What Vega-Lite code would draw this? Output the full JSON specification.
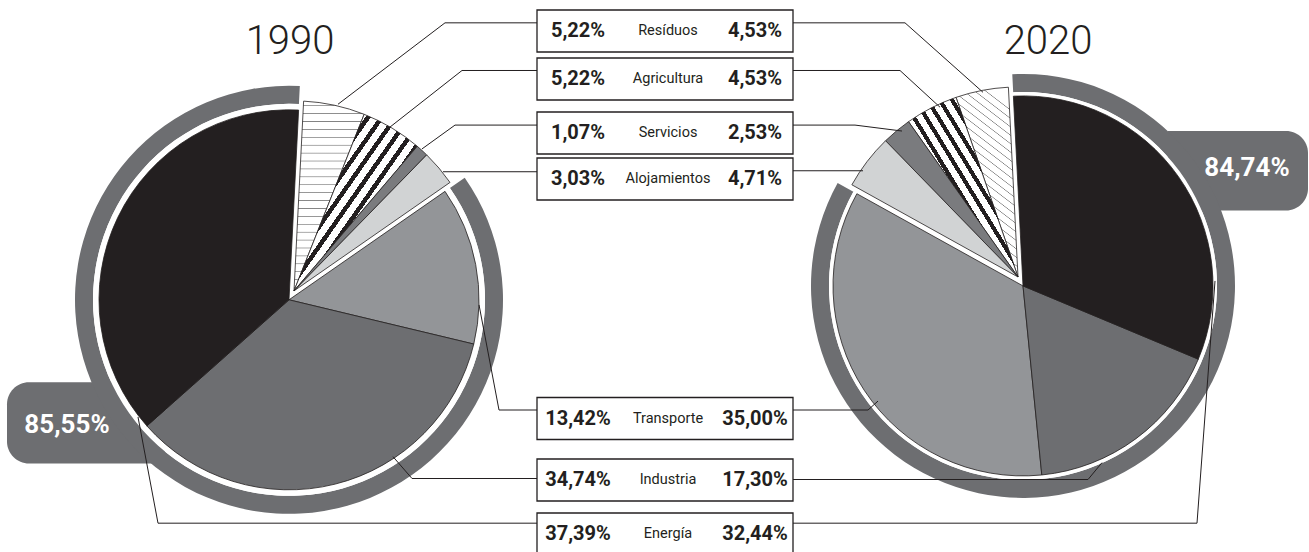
{
"$schema": "https://vega.github.io/schema/vega-lite/v6.json",
"width": 1309, "height": 552,
"autosize": {"type": "fit", "contains": "padding"},
"padding": 0,
"background": "white",
"config": {"view": {"stroke": null}},
"resolve": {"scale": {"y": "independent", "theta": "independent"}},
"datasets": {
"slices": [
{"year":"1990","cat":"Resíduos","rank":1,"value":5.22,"group":"small"},
{"year":"1990","cat":"Agricultura","rank":2,"value":5.22,"group":"small"},
{"year":"1990","cat":"Servicios","rank":3,"value":1.07,"group":"small"},
{"year":"1990","cat":"Alojamientos","rank":4,"value":3.03,"group":"small"},
{"year":"1990","cat":"Transporte","rank":5,"value":13.42,"group":"main"},
{"year":"1990","cat":"Industria","rank":6,"value":34.74,"group":"main"},
{"year":"1990","cat":"Energía","rank":7,"value":37.39,"group":"main"},
{"year":"2020","cat":"Resíduos","rank":1,"value":4.53,"group":"small"},
{"year":"2020","cat":"Agricultura","rank":2,"value":4.53,"group":"small"},
{"year":"2020","cat":"Servicios","rank":3,"value":2.53,"group":"small"},
{"year":"2020","cat":"Alojamientos","rank":4,"value":4.71,"group":"small"},
{"year":"2020","cat":"Transporte","rank":5,"value":35.00,"group":"main"},
{"year":"2020","cat":"Industria","rank":6,"value":17.30,"group":"main"},
{"year":"2020","cat":"Energía","rank":7,"value":32.44,"group":"main"}
],
"leaders": [
{"id":"L1","o":1,"x":338,"y":105},{"id":"L1","o":2,"x":445,"y":23},{"id":"L1","o":3,"x":537,"y":23},
{"id":"L2","o":1,"x":390,"y":128},{"id":"L2","o":2,"x":462,"y":71},{"id":"L2","o":3,"x":537,"y":71},
{"id":"L3","o":1,"x":422,"y":150},{"id":"L3","o":2,"x":455,"y":126},{"id":"L3","o":3,"x":537,"y":126},
{"id":"L4","o":1,"x":443,"y":173},{"id":"L4","o":2,"x":537,"y":173},
{"id":"L5","o":1,"x":479,"y":307},{"id":"L5","o":2,"x":499,"y":413},{"id":"L5","o":3,"x":537,"y":413},
{"id":"L6","o":1,"x":393,"y":460},{"id":"L6","o":2,"x":412,"y":482},{"id":"L6","o":3,"x":537,"y":482},
{"id":"L7","o":1,"x":138,"y":420},{"id":"L7","o":2,"x":158,"y":527},{"id":"L7","o":3,"x":537,"y":527},
{"id":"R1","o":1,"x":793,"y":23},{"id":"R1","o":2,"x":905,"y":23},{"id":"R1","o":3,"x":983,"y":93},
{"id":"R2","o":1,"x":793,"y":71},{"id":"R2","o":2,"x":900,"y":71},{"id":"R2","o":3,"x":940,"y":108},
{"id":"R3","o":1,"x":793,"y":126},{"id":"R3","o":2,"x":855,"y":126},{"id":"R3","o":3,"x":902,"y":132},
{"id":"R4","o":1,"x":793,"y":172},{"id":"R4","o":2,"x":863,"y":172},
{"id":"R5","o":1,"x":793,"y":413},{"id":"R5","o":2,"x":868,"y":413},{"id":"R5","o":3,"x":878,"y":404},
{"id":"R6","o":1,"x":793,"y":483},{"id":"R6","o":2,"x":1088,"y":483},{"id":"R6","o":3,"x":1102,"y":466},
{"id":"R7","o":1,"x":793,"y":527},{"id":"R7","o":2,"x":1197,"y":527},{"id":"R7","o":3,"x":1215,"y":283}
]
},
"layer": [
{
"data": {"values": [{}]},
"mark": {"type": "rect", "fill": "#6d6e71", "cornerRadiusTopLeft": 22, "cornerRadiusBottomLeft": 22},
"encoding": {
"x": {"datum": 7, "type": "quantitative", "scale": {"domain": [0, 1309], "nice": false, "zero": false}, "axis": null},
"x2": {"datum": 165},
"y": {"datum": 385, "type": "quantitative", "scale": {"domain": [0, 552], "reverse": true, "nice": false, "zero": false}, "axis": null},
"y2": {"datum": 467}
}
},
{
"data": {"values": [{}]},
"mark": {"type": "rect", "fill": "#6d6e71", "cornerRadiusTopRight": 22, "cornerRadiusBottomRight": 22},
"encoding": {
"x": {"datum": 1168, "type": "quantitative", "scale": {"domain": [0, 1309], "nice": false, "zero": false}, "axis": null},
"x2": {"datum": 1308},
"y": {"datum": 132, "type": "quantitative", "scale": {"domain": [0, 552], "reverse": true, "nice": false, "zero": false}, "axis": null},
"y2": {"datum": 212}
}
},
{
"data": {"name": "slices"},
"transform": [
{"filter": "datum.year==='1990'"},
{"stack": "value", "groupby": ["year"], "sort": [{"field": "rank", "order": "ascending"}], "offset": "normalize", "as": ["s0", "s1"]},
{"filter": "datum.group==='main'"},
{"aggregate": [{"op": "min", "field": "s0", "as": "a0"}, {"op": "max", "field": "s1", "as": "a1"}]}
],
"layer": [
{"mark": {"type": "arc", "innerRadius": 196, "outerRadius": 214, "fill": "#6d6e71"}},
{"mark": {"type": "arc", "innerRadius": 188, "outerRadius": 196, "fill": "#ffffff"}}
],
"encoding": {
"x": {"datum": 289, "type": "quantitative", "scale": {"domain": [0, 1309], "nice": false, "zero": false}, "axis": null},
"y": {"datum": 302, "type": "quantitative", "scale": {"domain": [0, 552], "reverse": true, "nice": false, "zero": false}, "axis": null},
"theta": {"field": "a0", "type": "quantitative", "stack": null, "scale": {"domain": [0, 1], "range": [0.0506, 6.3338]}},
"theta2": {"field": "a1"}
}
},
{
"data": {"name": "slices"},
"transform": [
{"filter": "datum.year==='2020'"},
{"stack": "value", "groupby": ["year"], "sort": [{"field": "rank", "order": "descending"}], "offset": "normalize", "as": ["s0", "s1"]},
{"filter": "datum.group==='main'"},
{"aggregate": [{"op": "min", "field": "s0", "as": "a0"}, {"op": "max", "field": "s1", "as": "a1"}]}
],
"layer": [
{"mark": {"type": "arc", "innerRadius": 194, "outerRadius": 212, "fill": "#6d6e71"}},
{"mark": {"type": "arc", "innerRadius": 188, "outerRadius": 194, "fill": "#ffffff"}}
],
"encoding": {
"x": {"datum": 1023, "type": "quantitative", "scale": {"domain": [0, 1309], "nice": false, "zero": false}, "axis": null},
"y": {"datum": 288, "type": "quantitative", "scale": {"domain": [0, 552], "reverse": true, "nice": false, "zero": false}, "axis": null},
"theta": {"field": "a0", "type": "quantitative", "stack": null, "scale": {"domain": [0, 1], "range": [-0.0506, 6.2326]}},
"theta2": {"field": "a1"}
}
},
{
"data": {"name": "slices"},
"transform": [
{"filter": "datum.year==='1990'"},
{"stack": "value", "groupby": ["year"], "sort": [{"field": "rank", "order": "ascending"}], "offset": "normalize", "as": ["s0", "s1"]},
{"filter": "datum.group==='main'"}
],
"mark": {"type": "arc", "outerRadius": 190, "stroke": "#231f20", "strokeWidth": 0.8},
"encoding": {
"x": {"datum": 289, "type": "quantitative", "scale": {"domain": [0, 1309], "nice": false, "zero": false}, "axis": null},
"y": {"datum": 302, "type": "quantitative", "scale": {"domain": [0, 552], "reverse": true, "nice": false, "zero": false}, "axis": null},
"theta": {"field": "s0", "type": "quantitative", "stack": null, "scale": {"domain": [0, 1], "range": [0.0506, 6.3338]}},
"theta2": {"field": "s1"},
"fill": {"field": "cat", "type": "nominal", "legend": null, "scale": {"domain": ["Energía","Industria","Transporte","Alojamientos","Servicios","Agricultura","Resíduos"], "range": ["#231f20","#6d6e71","#939598","#d1d3d4","#7a7b7e","#ffffff","#ffffff"]}}
}
},
{
"data": {"name": "slices"},
"transform": [
{"filter": "datum.year==='2020'"},
{"stack": "value", "groupby": ["year"], "sort": [{"field": "rank", "order": "descending"}], "offset": "normalize", "as": ["s0", "s1"]},
{"filter": "datum.group==='main'"}
],
"mark": {"type": "arc", "outerRadius": 190, "stroke": "#231f20", "strokeWidth": 0.8},
"encoding": {
"x": {"datum": 1023, "type": "quantitative", "scale": {"domain": [0, 1309], "nice": false, "zero": false}, "axis": null},
"y": {"datum": 288, "type": "quantitative", "scale": {"domain": [0, 552], "reverse": true, "nice": false, "zero": false}, "axis": null},
"theta": {"field": "s0", "type": "quantitative", "stack": null, "scale": {"domain": [0, 1], "range": [-0.0506, 6.2326]}},
"theta2": {"field": "s1"},
"fill": {"field": "cat", "type": "nominal", "legend": null}
}
},
{
"data": {"name": "slices"},
"transform": [
{"filter": "datum.year==='1990'"},
{"stack": "value", "groupby": ["year"], "sort": [{"field": "rank", "order": "ascending"}], "offset": "normalize", "as": ["s0", "s1"]},
{"filter": "datum.group==='small'"}
],
"mark": {"type": "arc", "outerRadius": 190, "stroke": "#231f20", "strokeWidth": 0.8},
"encoding": {
"x": {"datum": 294, "type": "quantitative", "scale": {"domain": [0, 1309], "nice": false, "zero": false}, "axis": null},
"y": {"datum": 293, "type": "quantitative", "scale": {"domain": [0, 552], "reverse": true, "nice": false, "zero": false}, "axis": null},
"theta": {"field": "s0", "type": "quantitative", "stack": null, "scale": {"domain": [0, 1], "range": [0.0506, 6.3338]}},
"theta2": {"field": "s1"},
"fill": {
"condition": [
{"test": "datum.cat==='Resíduos'", "value": {"gradient": "linear", "x1": 0, "y1": 0, "x2": 0, "y2": 1, "stops": [
{"offset":0,"color":"#ffffff"},
{"offset":0.02,"color":"#ffffff"},{"offset":0.024,"color":"#808080"},{"offset":0.028,"color":"#ffffff"},
{"offset":0.0617,"color":"#ffffff"},{"offset":0.0657,"color":"#808080"},{"offset":0.0697,"color":"#ffffff"},
{"offset":0.1033,"color":"#ffffff"},{"offset":0.1073,"color":"#808080"},{"offset":0.1113,"color":"#ffffff"},
{"offset":0.145,"color":"#ffffff"},{"offset":0.149,"color":"#808080"},{"offset":0.153,"color":"#ffffff"},
{"offset":0.1867,"color":"#ffffff"},{"offset":0.1907,"color":"#808080"},{"offset":0.1947,"color":"#ffffff"},
{"offset":0.2283,"color":"#ffffff"},{"offset":0.2323,"color":"#808080"},{"offset":0.2363,"color":"#ffffff"},
{"offset":0.27,"color":"#ffffff"},{"offset":0.274,"color":"#808080"},{"offset":0.278,"color":"#ffffff"},
{"offset":0.3117,"color":"#ffffff"},{"offset":0.3157,"color":"#808080"},{"offset":0.3197,"color":"#ffffff"},
{"offset":0.3533,"color":"#ffffff"},{"offset":0.3573,"color":"#808080"},{"offset":0.3613,"color":"#ffffff"},
{"offset":0.395,"color":"#ffffff"},{"offset":0.399,"color":"#808080"},{"offset":0.403,"color":"#ffffff"},
{"offset":0.4367,"color":"#ffffff"},{"offset":0.4407,"color":"#808080"},{"offset":0.4447,"color":"#ffffff"},
{"offset":0.4783,"color":"#ffffff"},{"offset":0.4823,"color":"#808080"},{"offset":0.4863,"color":"#ffffff"},
{"offset":0.52,"color":"#ffffff"},{"offset":0.524,"color":"#808080"},{"offset":0.528,"color":"#ffffff"},
{"offset":0.5617,"color":"#ffffff"},{"offset":0.5657,"color":"#808080"},{"offset":0.5697,"color":"#ffffff"},
{"offset":0.6033,"color":"#ffffff"},{"offset":0.6073,"color":"#808080"},{"offset":0.6113,"color":"#ffffff"},
{"offset":0.645,"color":"#ffffff"},{"offset":0.649,"color":"#808080"},{"offset":0.653,"color":"#ffffff"},
{"offset":0.6867,"color":"#ffffff"},{"offset":0.6907,"color":"#808080"},{"offset":0.6947,"color":"#ffffff"},
{"offset":0.7283,"color":"#ffffff"},{"offset":0.7323,"color":"#808080"},{"offset":0.7363,"color":"#ffffff"},
{"offset":0.77,"color":"#ffffff"},{"offset":0.774,"color":"#808080"},{"offset":0.778,"color":"#ffffff"},
{"offset":0.8117,"color":"#ffffff"},{"offset":0.8157,"color":"#808080"},{"offset":0.8197,"color":"#ffffff"},
{"offset":0.8533,"color":"#ffffff"},{"offset":0.8573,"color":"#808080"},{"offset":0.8613,"color":"#ffffff"},
{"offset":0.895,"color":"#ffffff"},{"offset":0.899,"color":"#808080"},{"offset":0.903,"color":"#ffffff"},
{"offset":0.9367,"color":"#ffffff"},{"offset":0.9407,"color":"#808080"},{"offset":0.9447,"color":"#ffffff"},
{"offset":0.9783,"color":"#ffffff"},{"offset":0.9823,"color":"#808080"},{"offset":0.9863,"color":"#ffffff"},
{"offset":1,"color":"#ffffff"}]}},
{"test": "datum.cat==='Agricultura'", "value": {"gradient": "linear", "x1": 0, "y1": 0, "x2": 1, "y2": 1, "stops": [
{"offset":0,"color":"#ffffff"},
{"offset":0.02,"color":"#ffffff"},{"offset":0.02,"color":"#231f20"},{"offset":0.042,"color":"#231f20"},{"offset":0.042,"color":"#ffffff"},
{"offset":0.0756,"color":"#ffffff"},{"offset":0.0756,"color":"#231f20"},{"offset":0.0976,"color":"#231f20"},{"offset":0.0976,"color":"#ffffff"},
{"offset":0.1311,"color":"#ffffff"},{"offset":0.1311,"color":"#231f20"},{"offset":0.1531,"color":"#231f20"},{"offset":0.1531,"color":"#ffffff"},
{"offset":0.1867,"color":"#ffffff"},{"offset":0.1867,"color":"#231f20"},{"offset":0.2087,"color":"#231f20"},{"offset":0.2087,"color":"#ffffff"},
{"offset":0.2422,"color":"#ffffff"},{"offset":0.2422,"color":"#231f20"},{"offset":0.2642,"color":"#231f20"},{"offset":0.2642,"color":"#ffffff"},
{"offset":0.2978,"color":"#ffffff"},{"offset":0.2978,"color":"#231f20"},{"offset":0.3198,"color":"#231f20"},{"offset":0.3198,"color":"#ffffff"},
{"offset":0.3533,"color":"#ffffff"},{"offset":0.3533,"color":"#231f20"},{"offset":0.3753,"color":"#231f20"},{"offset":0.3753,"color":"#ffffff"},
{"offset":0.4089,"color":"#ffffff"},{"offset":0.4089,"color":"#231f20"},{"offset":0.4309,"color":"#231f20"},{"offset":0.4309,"color":"#ffffff"},
{"offset":0.4644,"color":"#ffffff"},{"offset":0.4644,"color":"#231f20"},{"offset":0.4864,"color":"#231f20"},{"offset":0.4864,"color":"#ffffff"},
{"offset":0.52,"color":"#ffffff"},{"offset":0.52,"color":"#231f20"},{"offset":0.542,"color":"#231f20"},{"offset":0.542,"color":"#ffffff"},
{"offset":0.5756,"color":"#ffffff"},{"offset":0.5756,"color":"#231f20"},{"offset":0.5976,"color":"#231f20"},{"offset":0.5976,"color":"#ffffff"},
{"offset":0.6311,"color":"#ffffff"},{"offset":0.6311,"color":"#231f20"},{"offset":0.6531,"color":"#231f20"},{"offset":0.6531,"color":"#ffffff"},
{"offset":0.6867,"color":"#ffffff"},{"offset":0.6867,"color":"#231f20"},{"offset":0.7087,"color":"#231f20"},{"offset":0.7087,"color":"#ffffff"},
{"offset":0.7422,"color":"#ffffff"},{"offset":0.7422,"color":"#231f20"},{"offset":0.7642,"color":"#231f20"},{"offset":0.7642,"color":"#ffffff"},
{"offset":0.7978,"color":"#ffffff"},{"offset":0.7978,"color":"#231f20"},{"offset":0.8198,"color":"#231f20"},{"offset":0.8198,"color":"#ffffff"},
{"offset":0.8533,"color":"#ffffff"},{"offset":0.8533,"color":"#231f20"},{"offset":0.8753,"color":"#231f20"},{"offset":0.8753,"color":"#ffffff"},
{"offset":0.9089,"color":"#ffffff"},{"offset":0.9089,"color":"#231f20"},{"offset":0.9309,"color":"#231f20"},{"offset":0.9309,"color":"#ffffff"},
{"offset":0.9644,"color":"#ffffff"},{"offset":0.9644,"color":"#231f20"},{"offset":0.9864,"color":"#231f20"},{"offset":0.9864,"color":"#ffffff"},
{"offset":1,"color":"#ffffff"}]}}
],
"field": "cat", "type": "nominal", "legend": null
}
}
},
{
"data": {"name": "slices"},
"transform": [
{"filter": "datum.year==='2020'"},
{"stack": "value", "groupby": ["year"], "sort": [{"field": "rank", "order": "descending"}], "offset": "normalize", "as": ["s0", "s1"]},
{"filter": "datum.group==='small'"}
],
"mark": {"type": "arc", "outerRadius": 190, "stroke": "#231f20", "strokeWidth": 0.8},
"encoding": {
"x": {"datum": 1018, "type": "quantitative", "scale": {"domain": [0, 1309], "nice": false, "zero": false}, "axis": null},
"y": {"datum": 279, "type": "quantitative", "scale": {"domain": [0, 552], "reverse": true, "nice": false, "zero": false}, "axis": null},
"theta": {"field": "s0", "type": "quantitative", "stack": null, "scale": {"domain": [0, 1], "range": [-0.0506, 6.2326]}},
"theta2": {"field": "s1"},
"fill": {
"condition": [
{"test": "datum.cat==='Resíduos'", "value": {"gradient": "linear", "x1": 0.5, "y1": 0, "x2": 0.25, "y2": 1, "stops": [
{"offset":0,"color":"#ffffff"},
{"offset":0.02,"color":"#ffffff"},{"offset":0.024,"color":"#808080"},{"offset":0.028,"color":"#ffffff"},
{"offset":0.0617,"color":"#ffffff"},{"offset":0.0657,"color":"#808080"},{"offset":0.0697,"color":"#ffffff"},
{"offset":0.1033,"color":"#ffffff"},{"offset":0.1073,"color":"#808080"},{"offset":0.1113,"color":"#ffffff"},
{"offset":0.145,"color":"#ffffff"},{"offset":0.149,"color":"#808080"},{"offset":0.153,"color":"#ffffff"},
{"offset":0.1867,"color":"#ffffff"},{"offset":0.1907,"color":"#808080"},{"offset":0.1947,"color":"#ffffff"},
{"offset":0.2283,"color":"#ffffff"},{"offset":0.2323,"color":"#808080"},{"offset":0.2363,"color":"#ffffff"},
{"offset":0.27,"color":"#ffffff"},{"offset":0.274,"color":"#808080"},{"offset":0.278,"color":"#ffffff"},
{"offset":0.3117,"color":"#ffffff"},{"offset":0.3157,"color":"#808080"},{"offset":0.3197,"color":"#ffffff"},
{"offset":0.3533,"color":"#ffffff"},{"offset":0.3573,"color":"#808080"},{"offset":0.3613,"color":"#ffffff"},
{"offset":0.395,"color":"#ffffff"},{"offset":0.399,"color":"#808080"},{"offset":0.403,"color":"#ffffff"},
{"offset":0.4367,"color":"#ffffff"},{"offset":0.4407,"color":"#808080"},{"offset":0.4447,"color":"#ffffff"},
{"offset":0.4783,"color":"#ffffff"},{"offset":0.4823,"color":"#808080"},{"offset":0.4863,"color":"#ffffff"},
{"offset":0.52,"color":"#ffffff"},{"offset":0.524,"color":"#808080"},{"offset":0.528,"color":"#ffffff"},
{"offset":0.5617,"color":"#ffffff"},{"offset":0.5657,"color":"#808080"},{"offset":0.5697,"color":"#ffffff"},
{"offset":0.6033,"color":"#ffffff"},{"offset":0.6073,"color":"#808080"},{"offset":0.6113,"color":"#ffffff"},
{"offset":0.645,"color":"#ffffff"},{"offset":0.649,"color":"#808080"},{"offset":0.653,"color":"#ffffff"},
{"offset":0.6867,"color":"#ffffff"},{"offset":0.6907,"color":"#808080"},{"offset":0.6947,"color":"#ffffff"},
{"offset":0.7283,"color":"#ffffff"},{"offset":0.7323,"color":"#808080"},{"offset":0.7363,"color":"#ffffff"},
{"offset":0.77,"color":"#ffffff"},{"offset":0.774,"color":"#808080"},{"offset":0.778,"color":"#ffffff"},
{"offset":0.8117,"color":"#ffffff"},{"offset":0.8157,"color":"#808080"},{"offset":0.8197,"color":"#ffffff"},
{"offset":0.8533,"color":"#ffffff"},{"offset":0.8573,"color":"#808080"},{"offset":0.8613,"color":"#ffffff"},
{"offset":0.895,"color":"#ffffff"},{"offset":0.899,"color":"#808080"},{"offset":0.903,"color":"#ffffff"},
{"offset":0.9367,"color":"#ffffff"},{"offset":0.9407,"color":"#808080"},{"offset":0.9447,"color":"#ffffff"},
{"offset":0.9783,"color":"#ffffff"},{"offset":0.9823,"color":"#808080"},{"offset":0.9863,"color":"#ffffff"},
{"offset":1,"color":"#ffffff"}]}},
{"test": "datum.cat==='Agricultura'", "value": {"gradient": "linear", "x1": 1, "y1": 0, "x2": 0, "y2": 1, "stops": [
{"offset":0,"color":"#ffffff"},
{"offset":0.02,"color":"#ffffff"},{"offset":0.02,"color":"#231f20"},{"offset":0.042,"color":"#231f20"},{"offset":0.042,"color":"#ffffff"},
{"offset":0.0756,"color":"#ffffff"},{"offset":0.0756,"color":"#231f20"},{"offset":0.0976,"color":"#231f20"},{"offset":0.0976,"color":"#ffffff"},
{"offset":0.1311,"color":"#ffffff"},{"offset":0.1311,"color":"#231f20"},{"offset":0.1531,"color":"#231f20"},{"offset":0.1531,"color":"#ffffff"},
{"offset":0.1867,"color":"#ffffff"},{"offset":0.1867,"color":"#231f20"},{"offset":0.2087,"color":"#231f20"},{"offset":0.2087,"color":"#ffffff"},
{"offset":0.2422,"color":"#ffffff"},{"offset":0.2422,"color":"#231f20"},{"offset":0.2642,"color":"#231f20"},{"offset":0.2642,"color":"#ffffff"},
{"offset":0.2978,"color":"#ffffff"},{"offset":0.2978,"color":"#231f20"},{"offset":0.3198,"color":"#231f20"},{"offset":0.3198,"color":"#ffffff"},
{"offset":0.3533,"color":"#ffffff"},{"offset":0.3533,"color":"#231f20"},{"offset":0.3753,"color":"#231f20"},{"offset":0.3753,"color":"#ffffff"},
{"offset":0.4089,"color":"#ffffff"},{"offset":0.4089,"color":"#231f20"},{"offset":0.4309,"color":"#231f20"},{"offset":0.4309,"color":"#ffffff"},
{"offset":0.4644,"color":"#ffffff"},{"offset":0.4644,"color":"#231f20"},{"offset":0.4864,"color":"#231f20"},{"offset":0.4864,"color":"#ffffff"},
{"offset":0.52,"color":"#ffffff"},{"offset":0.52,"color":"#231f20"},{"offset":0.542,"color":"#231f20"},{"offset":0.542,"color":"#ffffff"},
{"offset":0.5756,"color":"#ffffff"},{"offset":0.5756,"color":"#231f20"},{"offset":0.5976,"color":"#231f20"},{"offset":0.5976,"color":"#ffffff"},
{"offset":0.6311,"color":"#ffffff"},{"offset":0.6311,"color":"#231f20"},{"offset":0.6531,"color":"#231f20"},{"offset":0.6531,"color":"#ffffff"},
{"offset":0.6867,"color":"#ffffff"},{"offset":0.6867,"color":"#231f20"},{"offset":0.7087,"color":"#231f20"},{"offset":0.7087,"color":"#ffffff"},
{"offset":0.7422,"color":"#ffffff"},{"offset":0.7422,"color":"#231f20"},{"offset":0.7642,"color":"#231f20"},{"offset":0.7642,"color":"#ffffff"},
{"offset":0.7978,"color":"#ffffff"},{"offset":0.7978,"color":"#231f20"},{"offset":0.8198,"color":"#231f20"},{"offset":0.8198,"color":"#ffffff"},
{"offset":0.8533,"color":"#ffffff"},{"offset":0.8533,"color":"#231f20"},{"offset":0.8753,"color":"#231f20"},{"offset":0.8753,"color":"#ffffff"},
{"offset":0.9089,"color":"#ffffff"},{"offset":0.9089,"color":"#231f20"},{"offset":0.9309,"color":"#231f20"},{"offset":0.9309,"color":"#ffffff"},
{"offset":0.9644,"color":"#ffffff"},{"offset":0.9644,"color":"#231f20"},{"offset":0.9864,"color":"#231f20"},{"offset":0.9864,"color":"#ffffff"},
{"offset":1,"color":"#ffffff"}]}}
],
"field": "cat", "type": "nominal", "legend": null
}
}
},
{
"data": {"name": "leaders"},
"mark": {"type": "line", "stroke": "#231f20", "strokeWidth": 1},
"encoding": {
"x": {"field": "x", "type": "quantitative", "scale": {"domain": [0, 1309], "nice": false, "zero": false}, "axis": null},
"y": {"field": "y", "type": "quantitative", "scale": {"domain": [0, 552], "reverse": true, "nice": false, "zero": false}, "axis": null},
"detail": {"field": "id"},
"order": {"field": "o", "type": "quantitative"}
}
},
{
"data": {"name": "slices"},
"transform": [{"filter": "datum.year==='1990'"}],
"mark": {"type": "rect", "height": 42, "fill": "#ffffff", "stroke": "#231f20", "strokeWidth": 1.3},
"encoding": {
"x": {"datum": 537, "type": "quantitative", "scale": {"domain": [0, 1309], "nice": false, "zero": false}, "axis": null},
"x2": {"datum": 793},
"y": {"field": "rank", "type": "quantitative", "scale": {"domain": [1,2,3,4,5,6,7], "range": [31,79,133,179,418.5,480,534], "nice": false, "zero": false}, "axis": null}
}
},
{
"data": {"name": "slices"},
"transform": [
{"calculate": "replace(format(datum.value, '.2f'), '.', ',') + '%'", "as": "label"}
],
"layer": [
{
"transform": [{"filter": "datum.year==='1990'"}],
"mark": {"type": "text", "font": "Roboto", "fontSize": 20, "fontWeight": "bold", "fill": "#231f20", "align": "center", "baseline": "middle"},
"encoding": {
"x": {"datum": 578, "type": "quantitative", "scale": {"domain": [0, 1309], "nice": false, "zero": false}, "axis": null},
"y": {"field": "rank", "type": "quantitative", "scale": {"domain": [1,2,3,4,5,6,7], "range": [31,79,133,179,418.5,480,534], "nice": false, "zero": false}, "axis": null},
"text": {"field": "label"}
}
},
{
"transform": [{"filter": "datum.year==='2020'"}],
"mark": {"type": "text", "font": "Roboto", "fontSize": 20, "fontWeight": "bold", "fill": "#231f20", "align": "center", "baseline": "middle"},
"encoding": {
"x": {"datum": 755, "type": "quantitative", "scale": {"domain": [0, 1309], "nice": false, "zero": false}, "axis": null},
"y": {"field": "rank", "type": "quantitative", "scale": {"domain": [1,2,3,4,5,6,7], "range": [31,79,133,179,418.5,480,534], "nice": false, "zero": false}, "axis": null},
"text": {"field": "label"}
}
},
{
"transform": [{"filter": "datum.year==='1990'"}],
"mark": {"type": "text", "font": "Roboto", "fontSize": 14.5, "fill": "#231f20", "align": "center", "baseline": "middle"},
"encoding": {
"x": {"datum": 668, "type": "quantitative", "scale": {"domain": [0, 1309], "nice": false, "zero": false}, "axis": null},
"y": {"field": "rank", "type": "quantitative", "scale": {"domain": [1,2,3,4,5,6,7], "range": [31,79,133,179,418.5,480,534], "nice": false, "zero": false}, "axis": null},
"text": {"field": "cat"}
}
}
]
},
{
"data": {"name": "slices"},
"transform": [
{"filter": "datum.group==='main'"},
{"aggregate": [{"op": "sum", "field": "value", "as": "total"}], "groupby": ["year"]},
{"calculate": "replace(format(datum.total, '.2f'), '.', ',') + '%'", "as": "label"}
],
"layer": [
{
"transform": [{"filter": "datum.year==='1990'"}],
"mark": {"type": "text", "font": "Roboto", "fontSize": 26, "fontWeight": "bold", "fill": "#ffffff", "align": "center", "baseline": "middle"},
"encoding": {
"x": {"datum": 67, "type": "quantitative", "scale": {"domain": [0, 1309], "nice": false, "zero": false}, "axis": null},
"y": {"datum": 428, "type": "quantitative", "scale": {"domain": [0, 552], "reverse": true, "nice": false, "zero": false}, "axis": null},
"text": {"field": "label"}
}
},
{
"transform": [{"filter": "datum.year==='2020'"}],
"mark": {"type": "text", "font": "Roboto", "fontSize": 26, "fontWeight": "bold", "fill": "#ffffff", "align": "center", "baseline": "middle"},
"encoding": {
"x": {"datum": 1247, "type": "quantitative", "scale": {"domain": [0, 1309], "nice": false, "zero": false}, "axis": null},
"y": {"datum": 169, "type": "quantitative", "scale": {"domain": [0, 552], "reverse": true, "nice": false, "zero": false}, "axis": null},
"text": {"field": "label"}
}
},
{
"transform": [{"filter": "datum.year==='1990'"}],
"mark": {"type": "text", "font": "Roboto", "fontSize": 40, "fontWeight": 300, "fill": "#231f20", "align": "center", "baseline": "alphabetic"},
"encoding": {
"x": {"datum": 290, "type": "quantitative", "scale": {"domain": [0, 1309], "nice": false, "zero": false}, "axis": null},
"y": {"datum": 54, "type": "quantitative", "scale": {"domain": [0, 552], "reverse": true, "nice": false, "zero": false}, "axis": null},
"text": {"field": "year"}
}
},
{
"transform": [{"filter": "datum.year==='2020'"}],
"mark": {"type": "text", "font": "Roboto", "fontSize": 40, "fontWeight": 300, "fill": "#231f20", "align": "center", "baseline": "alphabetic"},
"encoding": {
"x": {"datum": 1048, "type": "quantitative", "scale": {"domain": [0, 1309], "nice": false, "zero": false}, "axis": null},
"y": {"datum": 54, "type": "quantitative", "scale": {"domain": [0, 552], "reverse": true, "nice": false, "zero": false}, "axis": null},
"text": {"field": "year"}
}
}
]
}
]
}
